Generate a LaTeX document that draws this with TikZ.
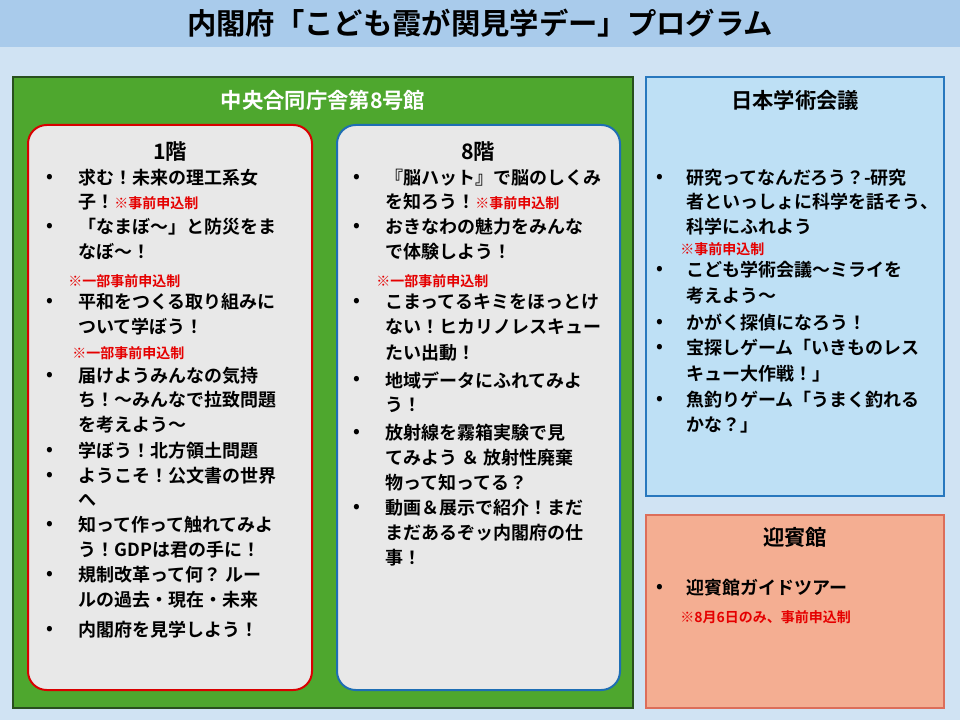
\documentclass[tikz,border=0pt]{standalone}
\usepackage{fontspec}
\setmainfont{Noto Sans CJK JP Bold}
\begin{document}
\begin{tikzpicture}[x=0.75pt,y=-0.75pt,
 ln/.style={anchor=west,inner sep=0pt,font=\fontsize{13.5}{14}\selectfont},
 rd/.style={anchor=west,inner sep=0pt,text=red!90!black,font=\fontsize{10.5}{11}\selectfont},
 hd/.style={inner sep=0pt,font=\fontsize{16}{17}\selectfont}]
\fill[fill={rgb,255:red,208;green,227;blue,243}] (0,0) rectangle (960,720);
\fill[fill={rgb,255:red,169;green,203;blue,235}] (0,0) rectangle (960,47);
\node[inner sep=0pt,font=\fontsize{22}{23}\selectfont] (title) at (480,23) {内閣府「こども霞が関見学デー」プログラム};
\draw[fill={rgb,255:red,78;green,167;blue,46},draw={rgb,255:red,40;green,80;blue,30},line width=1.5pt] (13,77) rectangle (633,708);
\node[hd,text=white] (g) at (323,100) {中央合同庁舎第8号館};
\draw[fill={rgb,255:red,232;green,232;blue,232},draw=red!85!black,line width=1.5pt,rounded corners=14pt] (28,125) rectangle (312,690);
\draw[fill={rgb,255:red,232;green,232;blue,232},draw={rgb,255:red,30;green,110;blue,180},line width=1.5pt,rounded corners=14pt] (337,125) rectangle (620,690);
\draw[fill={rgb,255:red,190;green,224;blue,245},draw={rgb,255:red,40;green,120;blue,190},line width=1pt] (646,77) rectangle (944,496);
\draw[fill={rgb,255:red,244;green,174;blue,146},draw={rgb,255:red,220;green,110;blue,90},line width=1pt] (646,515) rectangle (944,708);
\node[hd] (f1) at (170,152) {1階};
\node[hd] (f8) at (478,152) {8階};
\node[hd] (jsc) at (795,100) {日本学術会議};
\node[hd] (gy) at (795,537) {迎賓館};
% bullets
\foreach \y in {178,227,302,376,451,476,525,575,630} \node[ln,anchor=center] at (50,\y) {•};
\foreach \y in {178,227,302,380,433,508} \node[ln,anchor=center] at (357,\y) {•};
\foreach \y in {178,270,323,348,400,588} \node[ln,anchor=center] at (660,\y) {•};
% left
\node[ln] at (78,178) {求む！未来の理工系女};
\node[ln] at (78,202) {子！\textcolor{red!90!black}{\fontsize{10.5}{11}\selectfont ※事前申込制}};
\node[ln] at (78,227) {「なまぼ～」と防災をま};
\node[ln] at (78,252) {なぼ～！};
\node[rd] at (68,281) {※一部事前申込制};
\node[ln] at (78,302) {平和をつくる取り組みに};
\node[ln] at (78,327) {ついて学ぼう！};
\node[rd] at (72,353) {※一部事前申込制};
\node[ln] at (78,376) {届けようみんなの気持};
\node[ln] at (78,400) {ち！～みんなで拉致問題};
\node[ln] at (78,425) {を考えよう～};
\node[ln] at (78,451) {学ぼう！北方領土問題};
\node[ln] at (78,476) {ようこそ！公文書の世界};
\node[ln] at (78,500) {へ};
\node[ln] at (78,525) {知って作って触れてみよ};
\node[ln] at (78,550) {う！GDPは君の手に！};
\node[ln] at (78,575) {規制改革って何？ ルー};
\node[ln] at (78,600) {ルの過去・現在・未来};
\node[ln] at (78,630) {内閣府を見学しよう！};
% middle
\node[ln] at (385,178) {『脳ハット』で脳のしくみ};
\node[ln] at (385,202) {を知ろう！\textcolor{red!90!black}{\fontsize{10.5}{11}\selectfont ※事前申込制}};
\node[ln] at (385,227) {おきなわの魅力をみんな};
\node[ln] at (385,252) {で体験しよう！};
\node[rd] at (376,281) {※一部事前申込制};
\node[ln] at (385,302) {こまってるキミをほっとけ};
\node[ln] at (385,327) {ない！ヒカリノレスキュー};
\node[ln] at (385,353) {たい出動！};
\node[ln] at (385,380) {地域データにふれてみよ};
\node[ln] at (385,405) {う！};
\node[ln] at (385,433) {放射線を霧箱実験で見};
\node[ln] at (385,458) {てみよう ＆ 放射性廃棄};
\node[ln] at (385,483) {物って知ってる？};
\node[ln] at (385,508) {動画＆展示で紹介！まだ};
\node[ln] at (385,533) {まだあるぞッ内閣府の仕};
\node[ln] at (385,558) {事！};
% right
\node[ln] at (686,178) {研究ってなんだろう？-研究};
\node[ln] at (686,202) {者といっしょに科学を話そう、};
\node[ln] at (686,227) {科学にふれよう};
\node[rd] at (680,249) {※事前申込制};
\node[ln] at (686,270) {こども学術会議～ミライを};
\node[ln] at (686,296) {考えよう～};
\node[ln] at (686,323) {かがく探偵になろう！};
\node[ln] at (686,348) {宝探しゲーム「いきものレス};
\node[ln] at (686,374) {キュー大作戦！」};
\node[ln] at (686,400) {魚釣りゲーム「うまく釣れる};
\node[ln] at (686,425) {かな？」};
\node[ln] at (686,588) {迎賓館ガイドツアー};
\node[rd] at (680,617) {※8月6日のみ、事前申込制};
\end{tikzpicture}
\end{document}
